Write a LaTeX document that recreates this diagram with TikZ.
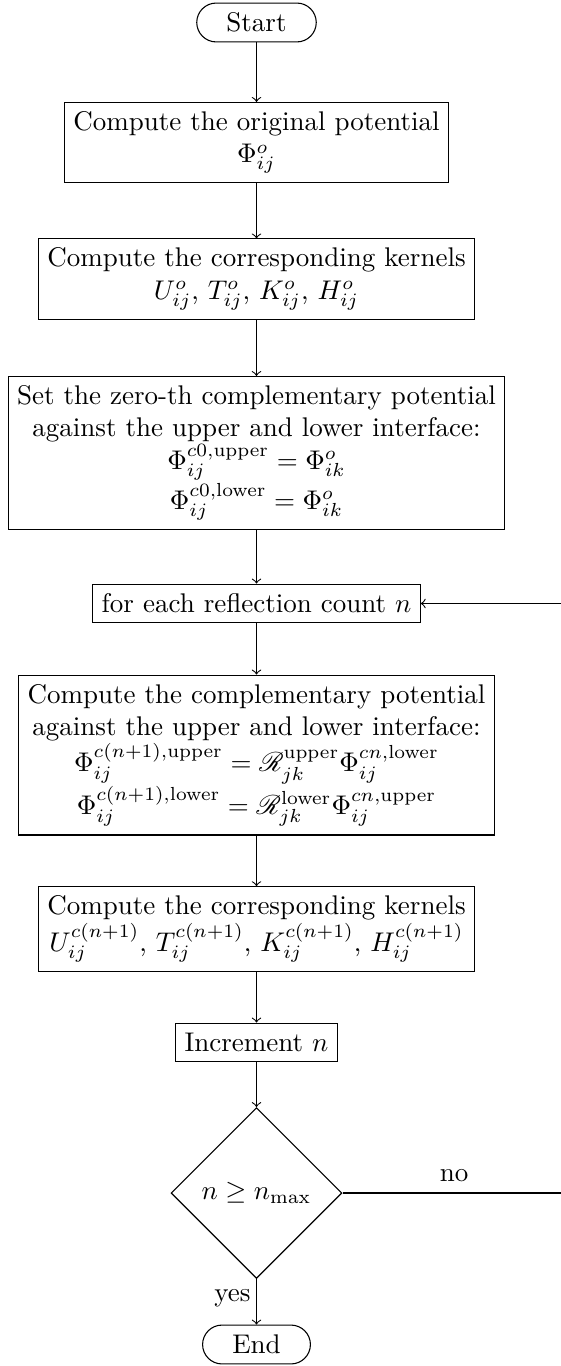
\documentclass[tikz,border=0pt]{standalone}
\usepackage{amsmath,amssymb}
\usepackage{mathrsfs}
\usetikzlibrary{shapes.geometric}
\begin{document}
\begin{tikzpicture}[x=0.37037pt, y=-0.37037pt,
  every node/.style={font=\normalsize},
  procbox/.style={draw, rectangle, align=center, inner sep=3.33pt, minimum height=14.4pt},
  termbox/.style={draw, rectangle, rounded corners=7.2pt, inner xsep=11pt, minimum height=14.4pt},
  decbox/.style={draw, diamond, aspect=1, minimum width=63.3pt, minimum height=63.3pt, inner sep=1pt},
  flow/.style={->},
  edgelabel/.style={inner sep=2pt}]
\useasboundingbox (0,0) rectangle (560,1366);
\node[termbox] (start) at (256.5,22.5) {Start};
\node[procbox] (b1) at (256.5,142.5) {Compute the original potential\\ $\Phi^o_{ij}$};
\node[procbox] (b2) at (256.5,279) {Compute the corresponding kernels\\ $U^o_{ij}$, $T^o_{ij}$, $K^o_{ij}$, $H^o_{ij}$};
\node[procbox] (b3) at (256.5,453) {Set the zero-th complementary potential\\ against the upper and lower interface:\\ $\Phi^{c0,\mathrm{upper}}_{ij} = \Phi^o_{ik}$\\ $\Phi^{c0,\mathrm{lower}}_{ij} = \Phi^o_{ik}$};
\node[procbox] (b4) at (256.5,603.5) {for each reflection count $n$};
\node[procbox] (b5) at (256.5,755) {Compute the complementary potential\\ against the upper and lower interface:\\ $\Phi^{c(n+1),\mathrm{upper}}_{ij} = \mathscr{R}^{\mathrm{upper}}_{jk}\Phi^{cn,\mathrm{lower}}_{ij}$\\ $\Phi^{c(n+1),\mathrm{lower}}_{ij} = \mathscr{R}^{\mathrm{lower}}_{jk}\Phi^{cn,\mathrm{upper}}_{ij}$};
\node[procbox] (b6) at (256.5,929) {Compute the corresponding kernels\\ $U^{c(n+1)}_{ij}$, $T^{c(n+1)}_{ij}$, $K^{c(n+1)}_{ij}$, $H^{c(n+1)}_{ij}$};
\node[procbox] (b7) at (256.5,1042.5) {Increment $n$};
\node[decbox] (dec) at (256.5,1193) {$n \geq n_{\max}$};
\node[termbox] (end) at (256.5,1344.5) {End};
\coordinate (loopcorner) at (580,1193);
\draw[flow] (start) -- (b1);
\draw[flow] (b1) -- (b2);
\draw[flow] (b2) -- (b3);
\draw[flow] (b3) -- (b4);
\draw[flow] (b4) -- (b5);
\draw[flow] (b5) -- (b6);
\draw[flow] (b6) -- (b7);
\draw[flow] (b7) -- (dec);
\draw[flow] (dec) -- node[pos=0.42, left, edgelabel] {yes} (end);
\draw[flow] (dec.east) -- node[pos=0.47, above, edgelabel, yshift=2pt] {no} (loopcorner) |- (b4.east);
\end{tikzpicture}
\end{document}
